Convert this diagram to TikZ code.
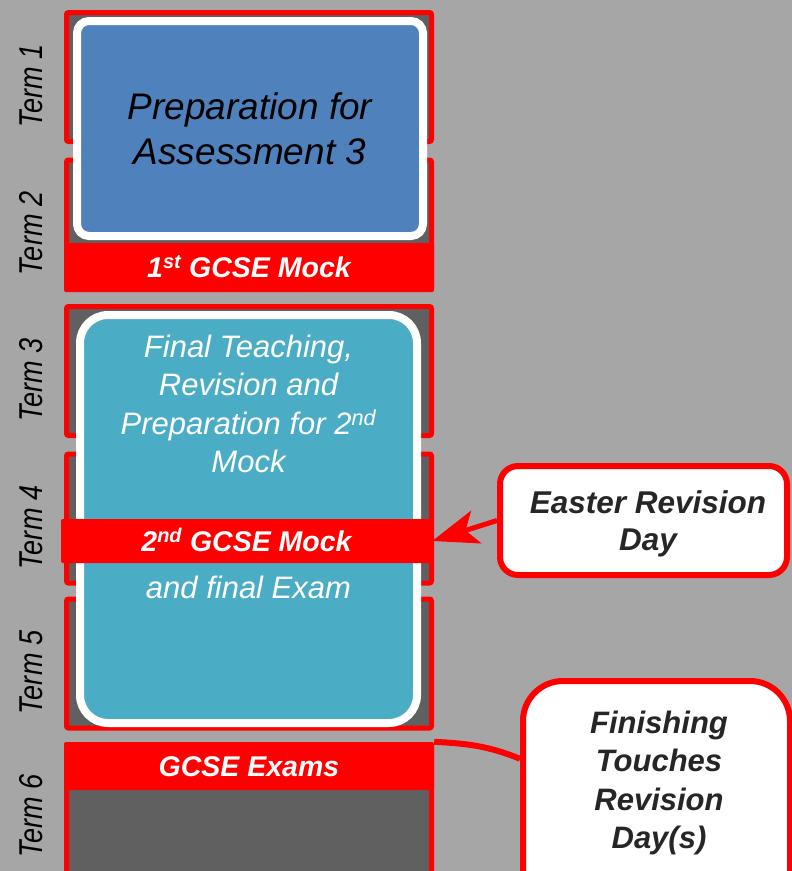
\documentclass[tikz,border=0pt]{standalone}
\usepackage{fontspec}
\setmainfont{Liberation Sans}
\usetikzlibrary{arrows.meta,shadows}

\definecolor{bggray}{HTML}{A6A6A6}
\definecolor{termgray}{HTML}{606060}
\definecolor{prepblue}{HTML}{4F81BD}
\definecolor{finalteal}{HTML}{4BACC6}
\definecolor{txtdark}{HTML}{262626}
\definecolor{mockred}{HTML}{FF0000}

\begin{document}
\begin{tikzpicture}[x=1pt,y=-1pt,
    term/.style={draw=mockred,fill=termgray,line width=5pt,rounded corners=2pt,minimum width=365pt,minimum height=129pt,inner sep=0pt},
    termlabel/.style={rotate=90,xscale=0.82,inner sep=0pt,text=black,font=\fontsize{33}{40}\selectfont\itshape},
    band/.style={fill=mockred,rounded corners=2pt,inner sep=0pt,text height=20.5pt,text depth=0pt,text=white,font=\fontsize{28.5}{34}\selectfont\bfseries\itshape},
    roundbox/.style={draw=white,line width=8pt,inner sep=0pt,drop shadow={opacity=0.35,shadow xshift=1pt,shadow yshift=-4pt}},
    callout/.style={draw=mockred,fill=white,line width=6pt,inner sep=0pt},
    calltext/.style={align=center,inner sep=0pt,text=txtdark},
    >={Stealth[length=46pt,width=34pt,inset=11pt]}
  ]
  \useasboundingbox (0,0) rectangle (792,871);
  \clip (0,0) rectangle (792,871);
  \fill[bggray] (0,0) rectangle (792,871);

  % terms
  \foreach \i/\yc in {1/77,2/224.5,3/371,4/518.5,5/663.5}{
    \node[term] (t\i) at (249,\yc) {};
    \node[termlabel] (lab\i) at (31,\yc+9) {Term \i};
  }
  \node[term,minimum height=150pt] (t6) at (249,819.5) {};
  \node[termlabel] (lab6) at (31,816) {Term 6};

  % exam bands
  \node[band,minimum width=370pt,minimum height=49pt] (mock1) at (249,267.5) {1\textsuperscript{st} GCSE Mock};
  \node[band,minimum width=370pt,minimum height=48pt] (exams) at (249,766) {GCSE Exams};

  % teaching blocks
  \node[roundbox,fill=prepblue,rounded corners=12pt,minimum width=346pt,minimum height=215pt,
    align=center,font=\fontsize{37}{45}\selectfont\itshape] (prep) at (250,128.5) {Preparation for\\Assessment 3};
  \node[roundbox,fill=finalteal,rounded corners=28pt,minimum width=337pt,minimum height=408pt] (final) at (248.5,519) {};
  \node[align=center,inner sep=0pt,text=white,font=\fontsize{31}{38.3}\selectfont\itshape] (finaltext) at (248.5,404)
    {Final Teaching,\\Revision and\\Preparation for 2\textsuperscript{nd}\\Mock};
  \node[anchor=base,inner sep=0pt,text=white,font=\fontsize{31}{38.3}\selectfont\itshape] (examtext) at (248.5,598) {and final Exam};
  \node[band,minimum width=371pt,minimum height=44pt] (mock2) at (246.5,541) {2\textsuperscript{nd} GCSE Mock};

  % revision days
  \node[callout,rounded corners=18pt,minimum width=287pt,minimum height=109pt] (easter) at (643.5,520.5) {};
  \node[calltext,font=\fontsize{31.5}{37}\selectfont\bfseries\itshape] (eastertext) at (648,524) {Easter Revision\\Day};
  \draw[->,draw=mockred,fill=mockred,line width=5pt] (easter.west) -- (mock2.east);

  \node[callout,rounded corners=40pt,minimum width=267pt,minimum height=239pt] (finish) at (656.5,800.5) {};
  \node[calltext,font=\fontsize{31}{38.3}\selectfont\bfseries\itshape] (finishtext) at (659,783)
    {Finishing\\Touches\\Revision\\Day(s)};
  \draw[mockred,line width=6pt] (exams.north east) to[out=-3,in=158] (finish.163);
\end{tikzpicture}
\end{document}
